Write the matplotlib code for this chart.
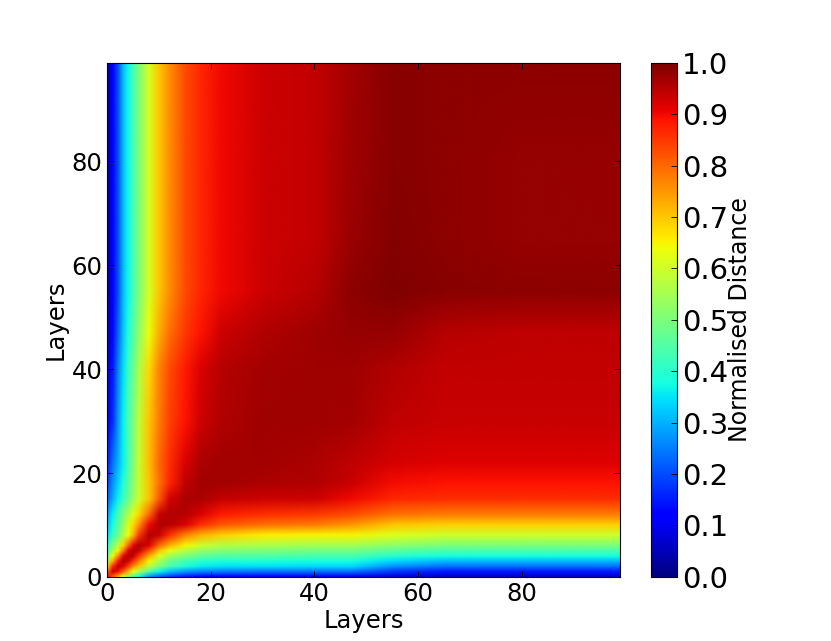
import numpy as np
import matplotlib
matplotlib.use('Agg')
import matplotlib.pyplot as plt
from matplotlib.image import NonUniformImage

layer_nodes = [0, 1, 2, 3, 4, 5, 6, 8, 10, 12, 15, 18, 22, 30, 40, 47, 55, 65, 80, 99]

# normalised distance, one row per layer_nodes value on the y axis
row_0 = [0.90, 0.82, 0.72, 0.62, 0.53, 0.45, 0.38, 0.28, 0.22, 0.18, 0.15, 0.13, 0.12, 0.11, 0.10, 0.10, 0.08, 0.07, 0.07, 0.07]
row_1 = [0.80, 0.93, 0.90, 0.82, 0.72, 0.63, 0.56, 0.45, 0.37, 0.32, 0.28, 0.26, 0.25, 0.24, 0.24, 0.24, 0.18, 0.15, 0.15, 0.15]
row_2 = [0.68, 0.86, 0.94, 0.92, 0.85, 0.76, 0.70, 0.58, 0.50, 0.44, 0.39, 0.36, 0.35, 0.35, 0.34, 0.34, 0.27, 0.24, 0.24, 0.24]
row_3 = [0.57, 0.72, 0.88, 0.95, 0.93, 0.86, 0.78, 0.65, 0.55, 0.48, 0.43, 0.40, 0.39, 0.39, 0.38, 0.38, 0.34, 0.31, 0.31, 0.31]
row_4 = [0.50, 0.63, 0.75, 0.90, 0.955, 0.94, 0.87, 0.73, 0.62, 0.55, 0.50, 0.47, 0.45, 0.45, 0.44, 0.44, 0.40, 0.38, 0.38, 0.38]
row_5 = [0.44, 0.55, 0.65, 0.77, 0.91, 0.955, 0.94, 0.83, 0.70, 0.63, 0.57, 0.53, 0.51, 0.50, 0.49, 0.49, 0.46, 0.44, 0.44, 0.44]
row_6 = [0.41, 0.50, 0.58, 0.68, 0.80, 0.91, 0.955, 0.92, 0.80, 0.72, 0.65, 0.60, 0.57, 0.56, 0.55, 0.55, 0.52, 0.50, 0.50, 0.50]
row_8 = [0.35, 0.42, 0.48, 0.56, 0.64, 0.72, 0.85, 0.955, 0.935, 0.86, 0.77, 0.72, 0.69, 0.66, 0.65, 0.65, 0.62, 0.60, 0.60, 0.60]
row_10 = [0.31, 0.38, 0.46, 0.53, 0.62, 0.68, 0.75, 0.90, 0.955, 0.95, 0.92, 0.86, 0.82, 0.79, 0.78, 0.75, 0.70, 0.69, 0.69, 0.69]
row_12 = [0.28, 0.36, 0.43, 0.50, 0.56, 0.62, 0.68, 0.80, 0.935, 0.955, 0.95, 0.92, 0.88, 0.86, 0.85, 0.83, 0.79, 0.78, 0.78, 0.78]
row_15 = [0.22, 0.30, 0.36, 0.42, 0.48, 0.54, 0.60, 0.70, 0.82, 0.925, 0.96, 0.96, 0.94, 0.93, 0.93, 0.90, 0.87, 0.86, 0.86, 0.86]
row_18 = [0.19, 0.27, 0.33, 0.39, 0.46, 0.52, 0.59, 0.70, 0.79, 0.87, 0.945, 0.965, 0.965, 0.96, 0.955, 0.935, 0.895, 0.89, 0.89, 0.89]
row_22 = [0.16, 0.24, 0.30, 0.36, 0.44, 0.51, 0.59, 0.71, 0.80, 0.86, 0.92, 0.96, 0.965, 0.965, 0.96, 0.945, 0.925, 0.915, 0.915, 0.915]
row_30 = [0.10, 0.17, 0.27, 0.36, 0.44, 0.50, 0.58, 0.70, 0.78, 0.84, 0.89, 0.93, 0.955, 0.97, 0.97, 0.965, 0.945, 0.935, 0.935, 0.935]
row_40 = [0.08, 0.15, 0.25, 0.34, 0.42, 0.48, 0.56, 0.68, 0.77, 0.83, 0.88, 0.92, 0.95, 0.965, 0.97, 0.97, 0.955, 0.94, 0.94, 0.94]
row_47 = [0.06, 0.13, 0.22, 0.32, 0.39, 0.46, 0.52, 0.64, 0.73, 0.79, 0.85, 0.89, 0.93, 0.955, 0.97, 0.98, 0.98, 0.95, 0.945, 0.945]
row_55 = [0.04, 0.11, 0.20, 0.31, 0.37, 0.44, 0.50, 0.61, 0.70, 0.76, 0.83, 0.87, 0.90, 0.93, 0.95, 0.985, 1.00, 0.99, 0.985, 0.985]
row_65 = [0.04, 0.11, 0.20, 0.31, 0.37, 0.44, 0.50, 0.61, 0.70, 0.76, 0.83, 0.87, 0.90, 0.93, 0.94, 0.975, 0.995, 0.985, 0.98, 0.98]
row_80 = [0.04, 0.11, 0.20, 0.31, 0.37, 0.44, 0.50, 0.61, 0.70, 0.76, 0.83, 0.87, 0.90, 0.93, 0.94, 0.97, 0.99, 0.985, 0.98, 0.98]
row_99 = [0.04, 0.11, 0.20, 0.31, 0.37, 0.44, 0.50, 0.61, 0.70, 0.76, 0.83, 0.87, 0.90, 0.93, 0.94, 0.965, 0.99, 0.985, 0.985, 0.985]

layer_ticks = [0, 20, 40, 60, 80]
cbar_ticks = [0.0, 0.1, 0.2, 0.3, 0.4, 0.5, 0.6, 0.7, 0.8, 0.9, 1.0]

dist = np.array([row_0, row_1, row_2, row_3, row_4, row_5, row_6, row_8, row_10,
                 row_12, row_15, row_18, row_22, row_30, row_40, row_47, row_55,
                 row_65, row_80, row_99])

plt.rcParams['font.family'] = 'DejaVu Sans'
plt.rcParams['xtick.direction'] = 'in'
plt.rcParams['ytick.direction'] = 'in'
plt.rcParams['xtick.top'] = True
plt.rcParams['ytick.right'] = True

fig = plt.figure(figsize=(8.31, 6.41), dpi=100)
ax = fig.add_axes([0.129, 0.1, 0.617, 0.802])
cax = fig.add_axes([0.783, 0.1, 0.032, 0.802])

im = NonUniformImage(ax, interpolation='bilinear', extent=(0, 99, 0, 99), cmap='jet')
im.set_data(np.array(layer_nodes, float), np.array(layer_nodes, float), dist)
im.set_clim(0, 1)
ax.add_image(im)
im.set_clip_path(ax.patch)
ax.set_xlim(0, 99)
ax.set_ylim(0, 99)

ax.set_xticks(layer_ticks)
ax.set_yticks(layer_ticks)
ax.tick_params(labelsize=17.5, length=4, width=0.6)
ax.set_xlabel('Layers', fontsize=17.5, labelpad=2)
ax.set_ylabel('Layers', fontsize=17.5, labelpad=3)

cb = fig.colorbar(im, cax=cax, ticks=cbar_ticks)
cb.ax.tick_params(labelsize=21, direction='in', length=4, width=0.6)
cb.set_label('Normalised Distance', fontsize=17, labelpad=0)
cb.outline.set_linewidth(0.8)

fig.savefig('out.png', dpi=100)
